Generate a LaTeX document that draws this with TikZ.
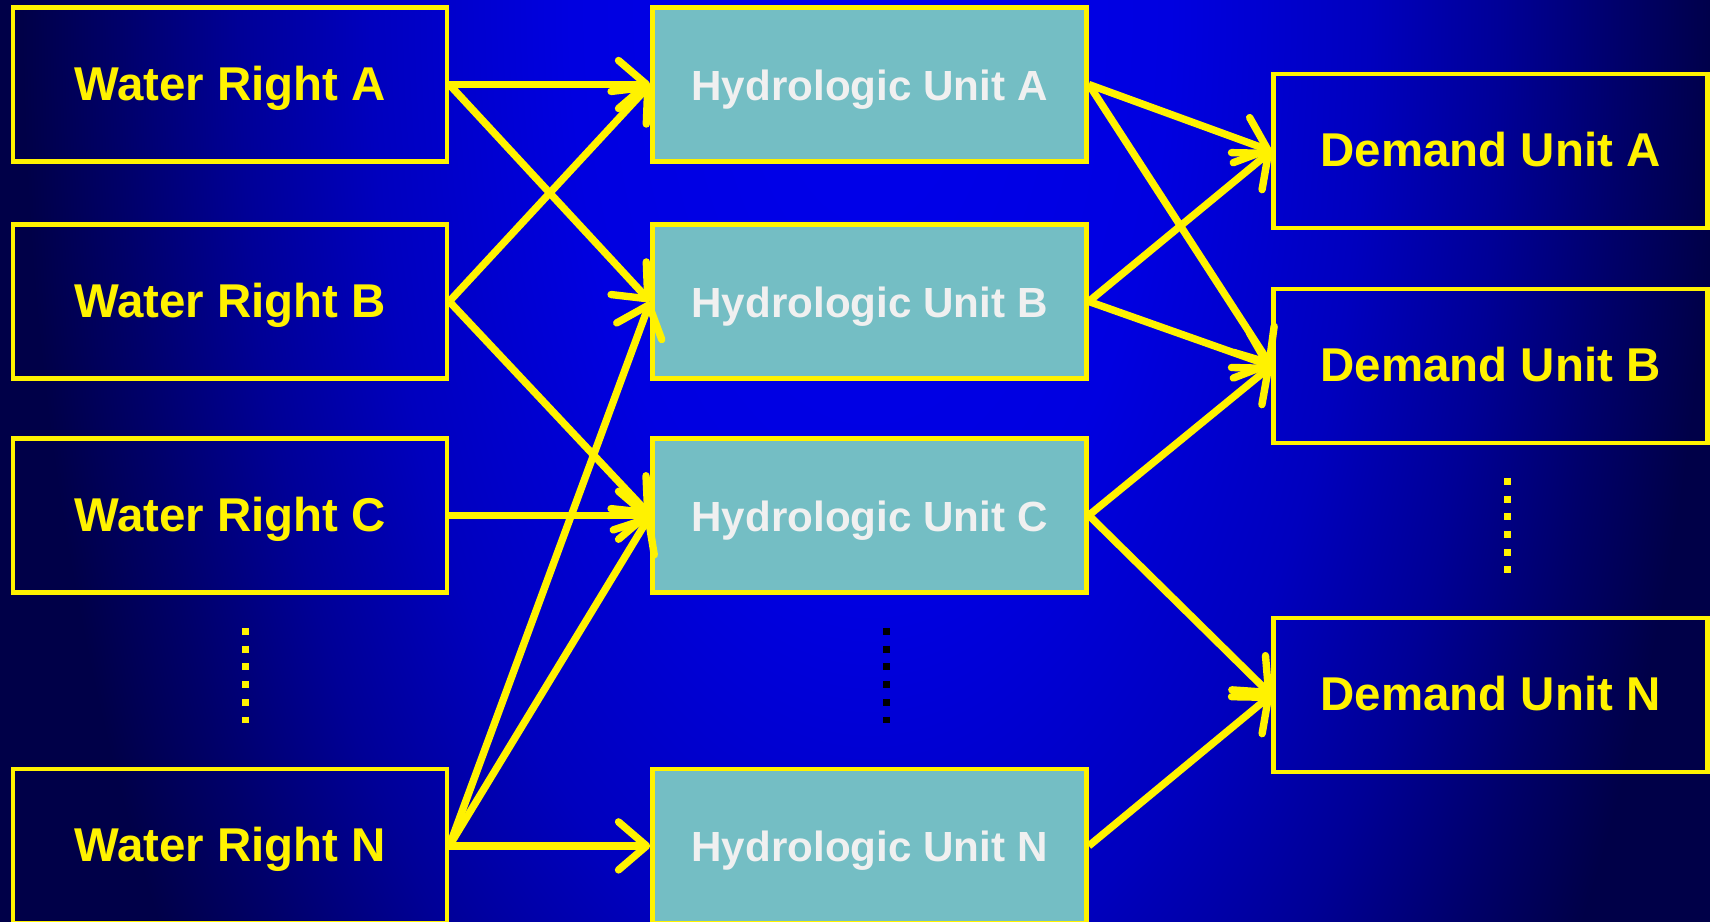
\documentclass[tikz,border=0pt]{standalone}
\usepackage{fontspec}
\setmainfont{Liberation Sans}
\usetikzlibrary{arrows.meta}

\definecolor{huteal}{RGB}{116,190,196}
\definecolor{hutext}{RGB}{240,240,240}
\definecolor{glowblue}{RGB}{0,0,236}
\definecolor{glowhigh}{RGB}{0,0,224}
\definecolor{glowmid}{RGB}{0,0,190}
\definecolor{glowdim}{RGB}{0,0,150}
\definecolor{glowlow}{RGB}{0,0,105}
\definecolor{deepnavy}{RGB}{0,0,72}

% 25bp of the shading = 20cm of the shaded ellipse
\pgfdeclareradialshading{bgglow}{\pgfpoint{0bp}{0bp}}{color(0bp)=(glowblue); color(3.75bp)=(glowhigh); color(6.25bp)=(glowmid); color(7.9bp)=(glowdim); color(9.4bp)=(glowlow); color(10.6bp)=(deepnavy); color(50bp)=(deepnavy)}

\begin{document}
\begin{tikzpicture}
    % Define styles
    \tikzset{
        rightbox/.style={draw=yellow, line width=1.3pt, minimum width=4.34cm, minimum height=1.54cm, inner sep=0pt, text=yellow, text height=1.7ex, text depth=0pt, font=\fontsize{13.5}{16}\selectfont\bfseries},
        unitbox/.style={rightbox, fill=huteal, text=hutext, font=\fontsize{12}{14}\selectfont\bfseries},
        flow/.style={-{Straight Barb[length=2.8mm,width=4.8mm,round]}, draw=yellow, line width=2.1pt},
        moredots/.style={line width=2pt, dash pattern=on 0.07cm off 0.107cm}
    }

    % Background glow
    \useasboundingbox (0,0) rectangle (17.1,9.21);
    \begin{scope}
        \clip (0,0) rectangle (17.1,9.21);
        \shade[shading=bgglow] (8.7,9.21) ellipse (20cm and 40cm);
    \end{scope}

    % Water rights
    \node[rightbox] (wr_a) at (2.30,8.365) {Water Right A};
    \node[rightbox] (wr_b) at (2.30,6.195) {Water Right B};
    \node[rightbox] (wr_c) at (2.30,4.057) {Water Right C};
    \node[rightbox] (wr_n) at (2.30,0.751) {Water Right N};

    % Hydrologic units
    \node[unitbox] (hu_a) at (8.695,8.365) {Hydrologic Unit A};
    \node[unitbox] (hu_b) at (8.695,6.195) {Hydrologic Unit B};
    \node[unitbox] (hu_c) at (8.695,4.057) {Hydrologic Unit C};
    \node[unitbox] (hu_n) at (8.695,0.751) {Hydrologic Unit N};

    % Demand units
    \node[rightbox] (du_a) at (14.905,7.70) {Demand Unit A};
    \node[rightbox] (du_b) at (14.905,5.55) {Demand Unit B};
    \node[rightbox] (du_n) at (14.905,2.26) {Demand Unit N};

    % Vertical dots
    \draw[moredots, yellow] (2.455,2.93) -- (2.455,1.98);
    \draw[moredots, black] (8.865,2.93) -- (8.865,1.98);
    \draw[moredots, yellow] (15.07,4.43) -- (15.07,3.48);

    % Rights to hydrologic units
    \draw[flow] (wr_a.east) -- (hu_a.west);
    \draw[flow] (wr_a.east) -- (hu_b.west);
    \draw[flow] (wr_b.east) -- (hu_a.west);
    \draw[flow] (wr_b.east) -- (hu_c.west);
    \draw[flow] (wr_c.east) -- (hu_c.west);
    \draw[flow] (wr_n.east) -- (hu_b.west);
    \draw[flow] (wr_n.east) -- (hu_c.west);
    \draw[flow] (wr_n.east) -- (hu_n.west);

    % Hydrologic units to demand units
    \draw[flow] (hu_a.east) -- (du_a.west);
    \draw[flow] (hu_a.east) -- (du_b.west);
    \draw[flow] (hu_b.east) -- (du_a.west);
    \draw[flow] (hu_b.east) -- (du_b.west);
    \draw[flow] (hu_c.east) -- (du_b.west);
    \draw[flow] (hu_c.east) -- (du_n.west);
    \draw[flow] (hu_n.east) -- (du_n.west);

\end{tikzpicture}
\end{document}
